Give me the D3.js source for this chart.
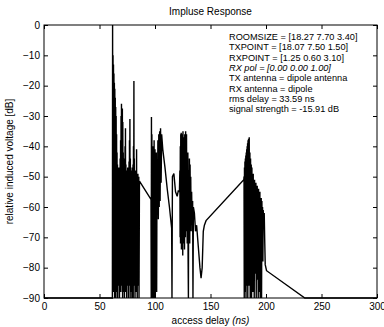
<!DOCTYPE html>
<html>
<head>
<meta charset="utf-8">
<script src="https://cdn.jsdelivr.net/npm/d3@7"></script>
<style>
  body { margin: 0; background: #fff; }
  svg { font-family: "Liberation Sans", Arial, sans-serif; }
</style>
</head>
<body>
<div id="chart"></div>
<script>
// impulse response: [access delay (ns), level (dB)]
var burst1 = [
  [0, -90], [61.5, -90], [61.6, -90], [61.8, 0], [62.0, -86], [62.2, -10], [62.4, -80],
  [62.6, -13], [62.8, -88], [63.0, -16], [63.2, -76], [63.4, -19], [63.6, -90],
  [63.8, -21], [64.0, -84], [64.2, -24], [64.4, -78], [64.6, -27], [64.8, -90],
  [65.0, -30], [65.2, -82], [65.4, -36], [65.6, -88], [65.8, -42], [66.0, -74],
  [66.2, -46], [66.4, -90], [66.6, -48], [66.8, -80], [67.0, -50], [67.2, -86],
  [67.4, -47], [67.6, -72], [67.8, -51], [68.0, -90], [68.2, -49], [68.4, -84],
  [68.6, -44], [68.8, -78], [69.0, -38], [69.2, -88], [69.4, -30], [69.6, -80],
  [69.8, -26], [70.0, -86], [70.2, -29], [70.4, -74], [70.6, -27.5], [70.8, -90],
  [71.0, -32], [71.2, -82], [71.4, -42], [71.6, -88], [71.8, -46], [72.0, -76],
  [72.2, -44], [72.4, -90], [72.6, -48], [72.8, -84], [73.0, -40], [73.2, -80],
  [73.4, -34], [73.6, -88], [73.8, -46], [74.0, -78], [74.2, -50], [74.4, -90],
  [74.6, -48], [74.8, -82], [75.0, -52], [75.2, -86], [75.4, -47], [75.6, -74],
  [75.8, -50], [76.0, -90], [76.2, -49], [76.4, -80], [76.6, -45], [76.8, -86],
  [77.0, -38], [77.2, -78], [77.4, -31], [77.6, -90], [77.8, -44], [78.0, -82],
  [78.2, -50], [78.4, -88], [78.6, -48], [78.8, -76], [79.0, -51], [79.2, -90],
  [79.4, -47], [79.6, -84], [79.8, -50], [80.0, -80], [80.2, -46], [80.4, -90],
  [80.6, -40], [80.8, -72], [81.0, -18.5], [81.2, -86], [81.4, -44], [81.6, -80],
  [81.8, -50], [82.0, -90], [82.2, -48], [82.4, -84], [82.6, -52], [82.8, -78],
  [83.0, -49], [83.2, -88], [83.4, -41], [83.6, -82], [83.8, -50], [84.0, -90],
  [84.2, -51], [84.4, -76], [84.6, -49], [84.8, -86], [85.0, -52], [85.2, -80],
  [85.4, -50], [85.6, -90], [86.0, -51.5]
];
var burst2 = [
  [96.4, -57.5], [96.6, -90], [96.8, -30.3], [97.0, -84], [97.2, -36], [97.4, -90],
  [97.6, -42], [97.8, -80], [98.0, -45], [98.2, -90], [98.4, -40], [98.6, -86],
  [98.8, -44], [99.0, -78], [99.2, -38], [99.4, -90], [99.6, -42], [99.8, -84],
  [100.0, -41], [100.3, -90], [100.6, -45], [100.9, -70], [101.2, -42], [101.5, -88],
  [101.8, -48], [102.2, -62], [102.6, -38], [103.0, -64], [103.4, -36], [103.8, -60],
  [104.2, -35], [104.6, -58], [105.0, -34], [105.5, -52], [106.0, -36], [107, -41],
  [109, -47], [111, -54], [113, -60], [115, -67], [115.3, -90], [115.7, -50],
  [117, -49], [118.5, -55], [120, -56.5], [121, -54.5], [122, -55]
];
var burst3 = [
  [122.4, -48], [122.6, -70], [122.8, -40], [123.0, -72], [123.2, -36], [123.4, -66],
  [123.6, -35.5], [123.8, -74], [124.0, -40], [124.2, -62], [124.4, -36], [124.6, -70],
  [124.8, -44], [125.0, -76], [125.2, -35], [125.4, -64], [125.6, -42], [125.8, -72],
  [126.0, -37], [126.2, -66], [126.4, -45], [126.6, -74], [126.8, -36], [127.0, -62],
  [127.2, -42], [127.4, -70], [127.6, -35], [127.8, -60], [128.0, -40], [128.2, -68],
  [128.4, -36], [128.6, -58], [128.8, -44], [129.0, -72], [129.2, -48], [129.4, -64],
  [129.6, -42], [129.8, -76], [130.1, -90], [130.4, -48], [130.7, -66], [131.0, -44],
  [131.3, -72], [131.6, -46], [131.9, -64], [132.2, -50], [132.6, -68], [133.0, -55],
  [133.5, -66], [133.9, -58], [134.2, -90], [134.6, -60], [135.5, -62], [136.5, -68],
  [137.5, -66], [139, -73], [140.5, -80], [141.5, -83.5], [142.5, -80], [143.5, -68],
  [144.5, -66], [146, -64.5]
];
var burst4 = [
  [180, -51], [180.2, -50], [180.4, -90], [180.6, -47], [180.8, -80], [181.0, -45],
  [181.2, -88], [181.4, -44], [181.6, -76], [181.8, -43], [182.0, -90], [182.2, -42],
  [182.4, -82], [182.6, -41], [182.8, -86], [183.0, -40], [183.2, -74], [183.4, -39],
  [183.6, -90], [183.8, -38], [184.0, -80], [184.3, -37.5], [184.6, -86], [184.9, -37],
  [185.2, -78], [185.5, -42], [185.8, -90], [186.1, -44], [186.4, -84], [186.7, -46],
  [187.0, -90], [187.3, -47], [187.6, -76], [187.9, -50], [188.2, -88], [188.5, -49],
  [188.8, -80], [189.1, -52], [189.4, -90], [189.7, -51], [190.0, -82], [190.3, -53],
  [190.6, -72], [190.9, -52], [191.2, -90], [191.5, -54], [191.8, -84], [192.1, -53],
  [192.4, -78], [192.7, -55], [193.0, -90], [193.3, -54], [193.6, -80], [193.9, -56],
  [194.2, -88], [194.5, -55], [194.8, -90], [195.1, -58], [195.4, -74], [195.7, -57],
  [196.0, -90], [196.3, -58], [196.6, -70], [196.9, -60], [197.2, -78], [197.5, -61],
  [197.9, -66], [198.4, -62], [198.9, -72], [199.3, -79], [200.5, -81], [235, -90],
  [300, -90]
];

var xTicks = [0, 50, 100, 150, 200, 250, 300];
var yTicks = [0, -10, -20, -30, -40, -50, -60, -70, -80, -90];

var infoLines = [
  "ROOMSIZE = [18.27 7.70 3.40]",
  "TXPOINT = [18.07 7.50 1.50]",
  "RXPOINT = [1.25 0.60 3.10]",
  "RX pol = [0.00 0.00 1.00]",
  "TX antenna = dipole antenna",
  "RX antenna = dipole",
  "rms delay = 33.59 ns",
  "signal strength = -15.91 dB"
];

var margin = { top: 25, right: 7, bottom: 29, left: 44 };
var width = 384 - margin.left - margin.right;
var height = 327 - margin.top - margin.bottom;

var svg = d3
  .select("#chart")
  .append("svg")
  .attr("width", 384)
  .attr("height", 327);

var g = svg
  .append("g")
  .attr("transform", "translate(" + margin.left + "," + margin.top + ")");

var x = d3.scaleLinear().domain([0, 300]).range([0, width]);
var y = d3.scaleLinear().domain([-90, 0]).range([height, 0]);

var points = burst1.concat(burst2, burst3, burst4);

// signal
var line = d3
  .line()
  .x(function (d) { return x(d[0]); })
  .y(function (d) { return y(d[1]); });

g.append("path")
  .datum(points)
  .attr("fill", "none")
  .attr("stroke", "#000")
  .attr("stroke-width", 1.4)
  .attr("stroke-linejoin", "miter")
  .attr("stroke-miterlimit", 2)
  .attr("d", line);

// axes, ticks pointing inwards on all four sides
function styleAxis(sel) {
  sel.select(".domain").remove();
  sel.selectAll(".tick line").attr("stroke", "#000");
  sel.selectAll(".tick text").attr("font-size", 10).attr("fill", "#000");
}

g.append("g")
  .attr("transform", "translate(0," + height + ")")
  .call(d3.axisBottom(x).tickValues(xTicks).tickSizeInner(-4).tickPadding(5))
  .call(styleAxis);

g.append("g")
  .call(d3.axisTop(x).tickValues(xTicks).tickSizeInner(-4).tickFormat(""))
  .call(styleAxis);

g.append("g")
  .call(d3.axisLeft(y).tickValues(yTicks).tickSizeInner(-4).tickPadding(4)
    .tickFormat(d3.format("d")))
  .call(styleAxis);

g.append("g")
  .attr("transform", "translate(" + width + ",0)")
  .call(d3.axisRight(y).tickValues(yTicks).tickSizeInner(-4).tickFormat(""))
  .call(styleAxis);

// box
g.append("rect")
  .attr("width", width)
  .attr("height", height)
  .attr("fill", "none")
  .attr("stroke", "#000")
  .attr("stroke-width", 1);

// title and labels
svg.append("text")
  .attr("x", margin.left + width / 2)
  .attr("y", 15)
  .attr("text-anchor", "middle")
  .attr("font-size", 10)
  .text("Impluse Response");

var xl = svg.append("text")
  .attr("x", margin.left + width / 2)
  .attr("y", 324)
  .attr("text-anchor", "middle")
  .attr("font-size", 10);
xl.append("tspan").text("access delay ");
xl.append("tspan").attr("font-style", "italic").text("(ns)");

svg.append("text")
  .attr("transform", "translate(13," + (margin.top + height / 2) + ") rotate(-90)")
  .attr("text-anchor", "middle")
  .attr("font-size", 10)
  .text("relative induced voltage [dB]");

// info block
svg.append("g")
  .selectAll("text")
  .data(infoLines)
  .join("text")
  .attr("x", 229)
  .attr("y", function (d, i) { return 40 + i * 10.3; })
  .attr("font-size", 9.2)
  .attr("font-style", function (d, i) { return i === 3 ? "italic" : null; })
  .text(function (d) { return d; });
</script>
</body>
</html>
